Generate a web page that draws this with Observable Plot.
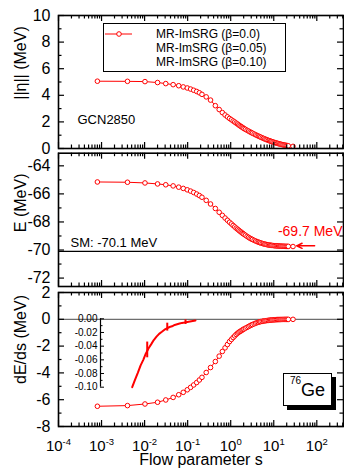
<!DOCTYPE html>
<html>
<head>
<meta charset="utf-8">
<script src="https://cdn.jsdelivr.net/npm/d3@7"></script>
<script src="https://cdn.jsdelivr.net/npm/@observablehq/plot@0.6"></script>
<style>
  body { margin: 0; background: #fff; }
  #chart { position: relative; width: 344px; height: 470px; overflow: hidden; background: #fff;
           font-family: "Liberation Sans", Arial, Helvetica, sans-serif; color: #000; }
  #chart svg { position: absolute; left: 0; }
  .legend { position: absolute; left: 103px; top: 23px; width: 181px; height: 47px;
            border: 1px solid #000; background: #fff; font-size: 12px; }
  .legend .t { position: absolute; left: 52px; line-height: 14px; white-space: nowrap; }
  .legend svg { position: absolute; left: 21px; top: 5px; }
  .gebox { position: absolute; left: 283px; top: 373px; width: 47px; height: 31px;
           border: 1px solid #000; background: #fff; box-shadow: 4px 4px 0 #000;
           text-align: center; line-height: 33px; font-size: 18px; }
  .gebox sup { font-size: 10px; position: relative; top: -3px; vertical-align: top; line-height: 20px; }
</style>
</head>
<body>
<div id="chart"></div>
<script>
// ---------------- data ----------------
const flowS = [0.0008, 0.004, 0.0102, 0.02, 0.031, 0.046, 0.062, 0.079, 0.098, 0.117,
  0.138, 0.162, 0.187, 0.215, 0.27, 0.34, 0.44, 0.54, 0.64, 0.74,
  0.84, 0.94, 1.04, 1.14, 1.24, 1.34, 1.44, 1.54, 1.64, 1.74,
  1.84, 1.94, 2.04, 2.2, 2.4, 2.6, 2.8, 3.0, 3.2, 3.5,
  3.8, 4.1, 4.4, 4.7, 5.0, 5.4, 5.8, 6.2, 6.6, 7.0,
  7.5, 8.0, 8.5, 9.0, 9.6, 10.2, 10.8, 11.5, 12.2, 13.0,
  13.8, 14.6, 15.5, 16.4, 17.4, 18.4, 19.5, 20.6, 21.8, 28.0];
const etaNorm = [5.06, 5.05, 5.03, 4.96, 4.88, 4.80, 4.72, 4.63, 4.55, 4.47,
  4.38, 4.29, 4.19, 4.07, 3.88, 3.64, 3.22, 2.93, 2.70, 2.52,
  2.38, 2.26, 2.16, 2.07, 1.99, 1.91, 1.84, 1.77, 1.71, 1.65,
  1.60, 1.55, 1.50, 1.44, 1.37, 1.31, 1.25, 1.20, 1.15, 1.09,
  1.03, 0.98, 0.93, 0.89, 0.85, 0.80, 0.76, 0.72, 0.68, 0.65,
  0.61, 0.58, 0.55, 0.52, 0.49, 0.46, 0.44, 0.41, 0.39, 0.36,
  0.34, 0.32, 0.30, 0.28, 0.26, 0.25, 0.23, 0.22, 0.20, 0.16];
const energy = [-65.15, -65.17, -65.22, -65.29, -65.35, -65.43, -65.52, -65.61, -65.71, -65.80,
  -65.90, -66.01, -66.12, -66.24, -66.46, -66.72, -67.04, -67.31, -67.53, -67.72,
  -67.88, -68.02, -68.14, -68.25, -68.35, -68.44, -68.52, -68.59, -68.66, -68.72,
  -68.78, -68.83, -68.88, -68.95, -69.03, -69.10, -69.16, -69.21, -69.25, -69.31,
  -69.36, -69.40, -69.44, -69.47, -69.50, -69.53, -69.56, -69.58, -69.60, -69.62,
  -69.64, -69.65, -69.66, -69.67, -69.68, -69.69, -69.70, -69.70, -69.71, -69.71,
  -69.72, -69.72, -69.73, -69.73, -69.73, -69.74, -69.74, -69.74, -69.74, -69.75];
const dEds = [-6.49, -6.44, -6.32, -6.19, -6.02, -5.83, -5.63, -5.45, -5.26, -5.08,
  -4.90, -4.72, -4.53, -4.33, -3.97, -3.60, -3.15, -2.75, -2.40, -2.13,
  -1.88, -1.66, -1.50, -1.36, -1.24, -1.13, -1.04, -0.97, -0.91, -0.86,
  -0.81, -0.76, -0.72, -0.66, -0.60, -0.54, -0.48, -0.43, -0.39, -0.34,
  -0.29, -0.25, -0.22, -0.19, -0.17, -0.15, -0.13, -0.115, -0.100, -0.090,
  -0.079, -0.068, -0.060, -0.051, -0.043, -0.037, -0.031, -0.026, -0.022, -0.019,
  -0.016, -0.014, -0.012, -0.011, -0.009, -0.008, -0.007, -0.006, -0.0055, -0.0025];

const smEnergy = -70.1;          // shell-model reference energy
const finalEnergy = -69.7;       // converged value annotated in red
const arrowS = [89, 34];         // arrow start / end (flow parameter)
const insetStartS = 6.6;         // inset shows dE/ds from this s on
const insetMarkS = [9.3, 14.7, 22.3];
const insetMarkLo = [-0.057, -0.018, -0.0083];
const insetMarkHi = [-0.034, -0.0064, -0.0015];

const xTickExponents = [-4, -3, -2, -1, 0, 1, 2];
const panel1Ticks = [0, 2, 4, 6, 8, 10];
const panel2Ticks = [-72, -70, -68, -66, -64];
const panel3Ticks = [-8, -6, -4, -2, 0, 2];
const insetTicks = [0, -0.02, -0.04, -0.06, -0.08, -0.10];
const legendLabels = ["MR-ImSRG (\u03B2=0.0)", "MR-ImSRG (\u03B2=0.05)", "MR-ImSRG (\u03B2=0.10)"];
const yLabels = ["||\u03B7|| (MeV)", "E (MeV)", "dE/ds (MeV)"];
const xLabel = "Flow parameter s";
const nucleus = {mass: "76", symbol: "Ge"};
const interactionLabel = "GCN2850";

// ---------------- layout / style ----------------
const red = "#ff0000";
const FONT = '"Liberation Sans", Arial, Helvetica, sans-serif';
const W = 344, ML = 58, MR = 1;
const xDomain = [1e-4, 417];
const insetXDomain = [3.2, 31.4];

const rows = flowS.map((s, i) => ({s, eta: etaNorm[i], e: energy[i], de: dEds[i]}));
const xMajor = xTickExponents.map(e => Math.pow(10, e));
const xMinor = [];
for (const e of xTickExponents) for (let k = 2; k <= 9; k++) {
  const v = k * Math.pow(10, e);
  if (v < xDomain[1]) xMinor.push(v);
}
function minorBetween(major, domain) {
  const out = [];
  for (let i = 0; i < major.length; i++) {
    const m = major[i], step = i + 1 < major.length ? major[i + 1] - m : major[i] - major[i - 1];
    for (const v of [m - step / 2, m + step / 2]) {
      if (v > Math.min(...domain) && v < Math.max(...domain) && !out.some(o => Math.abs(o - v) < 1e-9)) out.push(v);
    }
  }
  return out;
}

const chart = document.getElementById("chart");

function panel({top, height, mt, mb, yDomain, yMajor, yLabel, labelDy, marks, xAxis}) {
  const pw = W - ML - MR, ph = height - mt - mb;
  const yMinor = minorBetween(yMajor, yDomain);
  const tk = {stroke: "#000", strokeWidth: 1.2};
  const svg = Plot.plot({
    width: W, height, marginLeft: ML, marginRight: MR, marginTop: mt, marginBottom: mb,
    style: {fontFamily: FONT, fontSize: "16px", overflow: "visible", background: "transparent", color: "#000"},
    x: {type: "log", domain: xDomain, axis: xAxis ? "bottom" : null, ticks: xMajor, tickSize: 0, tickPadding: 14,
        tickFormat: d => "10^" + Math.round(Math.log10(d)), label: null},
    y: {domain: yDomain, ticks: yMajor, tickSize: 0, tickPadding: 8, tickFormat: d => String(d), label: null},
    marks: [
      ...marks,
      Plot.ruleX(xMajor, {x: d => d, insetTop: ph - 6, ...tk}),
      Plot.ruleX(xMajor, {x: d => d, insetBottom: ph - 6, ...tk}),
      Plot.ruleX(xMinor, {x: d => d, insetTop: ph - 3.5, ...tk}),
      Plot.ruleX(xMinor, {x: d => d, insetBottom: ph - 3.5, ...tk}),
      Plot.ruleY(yMajor, {y: d => d, insetRight: pw - 6, ...tk}),
      Plot.ruleY(yMajor, {y: d => d, insetLeft: pw - 6, ...tk}),
      Plot.ruleY(yMinor, {y: d => d, insetRight: pw - 3.5, ...tk}),
      Plot.ruleY(yMinor, {y: d => d, insetLeft: pw - 3.5, ...tk}),
      Plot.frame({stroke: "#000", strokeWidth: 1.6}),
      Plot.text([yLabel], {frameAnchor: "left", rotate: -90, textAnchor: "middle", dx: -38, dy: labelDy, fontSize: 16})
    ]
  });
  svg.style.top = top + "px";
  chart.appendChild(svg);
  return svg;
}

const dataMarks = (key) => [
  Plot.line(rows, {x: "s", y: key, stroke: red, strokeWidth: 1}),
  Plot.dot(rows, {x: "s", y: key, r: 2.3, stroke: red, fill: "white", strokeWidth: 1})
];

// Panel 1: ||eta||
panel({top: 0, height: 150, mt: 15, mb: 2, yDomain: [0, 10], yMajor: panel1Ticks,
  yLabel: yLabels[0], labelDy: -19,
  marks: [
    ...dataMarks("eta"),
    Plot.text([interactionLabel], {frameAnchor: "bottom-left", dx: 19, dy: -25, textAnchor: "start", fontSize: 13})
  ]});

// Panel 2: E
panel({top: 150, height: 138, mt: 2.7, mb: 2, yDomain: [-72.6, -63.1], yMajor: panel2Ticks,
  yLabel: yLabels[1], labelDy: -17,
  marks: [
    Plot.ruleY([smEnergy], {y: d => d, stroke: "#000", strokeWidth: 1.2}),
    ...dataMarks("e"),
    Plot.text([`SM: ${smEnergy} MeV`], {x: () => xDomain[0], y: () => smEnergy, dx: 12, dy: -9, textAnchor: "start", fontSize: 13}),
    Plot.arrow([finalEnergy], {x1: () => arrowS[0], x2: () => arrowS[1], y: d => d, stroke: red, strokeWidth: 1.5, headLength: 7, headAngle: 50}),
    Plot.text([`${finalEnergy} MeV`], {x: () => xDomain[1], y: () => finalEnergy, textAnchor: "end", dx: -1, dy: -14, fill: red, fontSize: 14})
  ]});

// Panel 3: dE/ds
const p3 = panel({top: 288, height: 182, mt: 4, mb: 44, yDomain: [-8, 2], yMajor: panel3Ticks,
  yLabel: yLabels[2], labelDy: -20, xAxis: true,
  marks: [
    Plot.ruleY([0], {y: d => d, stroke: "#6e6e6e", strokeWidth: 1.2}),
    ...dataMarks("de"),
    Plot.text([xLabel], {frameAnchor: "bottom", dy: 38, fontSize: 16})
  ]});

// superscripts for the log tick labels
for (const t of p3.querySelectorAll("text")) {
  const m = /^10\^(-?\d+)$/.exec(t.textContent);
  if (!m) continue;
  t.textContent = "10";
  t.setAttribute("font-size", "15");
  const sup = document.createElementNS("http://www.w3.org/2000/svg", "tspan");
  sup.setAttribute("dy", "-6");
  sup.setAttribute("font-size", "9.5");
  sup.textContent = m[1];
  t.appendChild(sup);
}

// Inset
{
  const iw = 220, ih = 100, iml = 100, imr = 20, imt = 18.3, imb = 13.3;
  const pw = iw - iml - imr;
  const insetRows = rows.filter(d => d.s >= insetStartS);
  const insetMinor = minorBetween(insetTicks, [-0.1, 0]);
  const svg = Plot.plot({
    width: iw, height: ih, marginLeft: iml, marginRight: imr, marginTop: imt, marginBottom: imb,
    style: {fontFamily: FONT, fontSize: "10px", overflow: "visible", background: "transparent", color: "#000"},
    x: {type: "log", domain: insetXDomain, axis: null},
    y: {domain: [-0.1, 0], ticks: insetTicks, tickSize: 0, tickPadding: 3, tickFormat: d => d.toFixed(2), label: null},
    marks: [
      Plot.ruleX([insetXDomain[0]], {x: d => d, stroke: "#000", strokeWidth: 1.2}),
      Plot.ruleY(insetTicks, {y: d => d, insetRight: pw - 4, stroke: "#000", strokeWidth: 1}),
      Plot.ruleY(insetMinor, {y: d => d, insetRight: pw - 2.5, stroke: "#000", strokeWidth: 1}),
      Plot.line(insetRows, {x: "s", y: "de", stroke: red, strokeWidth: 2}),
      Plot.ruleX(insetMarkS, {x: d => d, y1: (d, i) => insetMarkLo[i], y2: (d, i) => insetMarkHi[i], stroke: red, strokeWidth: 2})
    ]
  });
  svg.style.top = "300px";
  chart.appendChild(svg);
}

// Legend
{
  const lg = document.createElement("div");
  lg.className = "legend";
  lg.innerHTML = `<svg width="30" height="10"><line x1="1" x2="28" y1="5" y2="5" stroke="${red}" stroke-width="1"/><circle cx="15" cy="5" r="2.3" fill="#fff" stroke="${red}"/></svg>`;
  legendLabels.forEach((t, i) => {
    const s = document.createElement("div");
    s.className = "t";
    s.style.top = (3 + i * 14) + "px";
    s.textContent = t;
    lg.appendChild(s);
  });
  chart.appendChild(lg);
}

// Nucleus label
{
  const b = document.createElement("div");
  b.className = "gebox";
  const sup = document.createElement("sup");
  sup.textContent = nucleus.mass;
  b.appendChild(sup);
  b.appendChild(document.createTextNode(nucleus.symbol));
  chart.appendChild(b);
}
</script>
</body>
</html>
